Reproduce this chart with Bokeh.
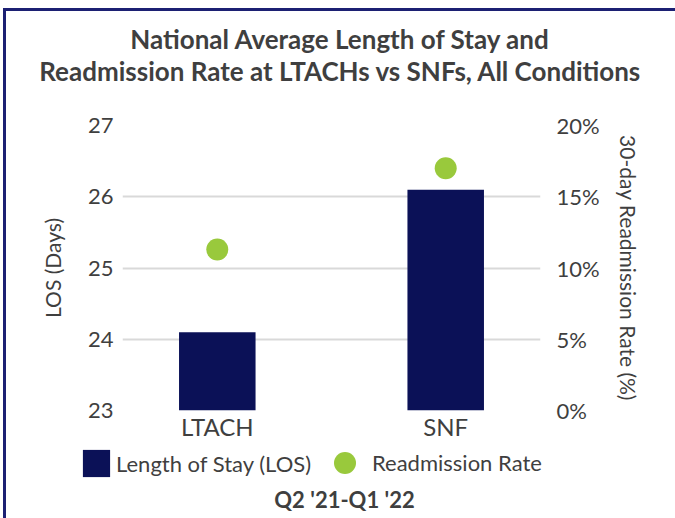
from bokeh.plotting import figure
from bokeh.layouts import column
from bokeh.models import (ColumnDataSource, FactorRange, Range1d, LinearAxis, Legend,
                          LegendItem, Label, PrintfTickFormatter, FixedTicker)
from bokeh.embed import file_html
from bokeh.resources import INLINE

categories = ["LTACH", "SNF"]
los_days = [24.1, 26.1]
readmission_pct = [11.3, 17.0]
los_ticks = [23, 24, 25, 26, 27]
pct_ticks = [0, 5, 10, 15, 20]
title_lines = ["National Average Length of Stay and",
               "Readmission Rate at LTACHs vs SNFs, All Conditions"]
period_label = "Q2 '21-Q1 '22"
series_names = ["Length of Stay (LOS)", "Readmission Rate"]

NAVY = "#0b1157"
GREEN = "#99c93c"
TXT = "#3f3f3f"
BORDER = "#1c2073"
FONT = "Lato"
W = 669

# ---------- title strip ----------
tf = figure(width=W, height=94, x_range=Range1d(0, 1), y_range=Range1d(0, 1),
            min_border=0, toolbar_location=None, output_backend="svg",
            x_axis_type=None, y_axis_type=None, outline_line_color=None,
            frame_align=False)
for txt, yy in zip(title_lines, [67, 35]):
    tf.add_layout(Label(x=334, y=yy, x_units="screen", y_units="screen", text=txt,
                        text_align="center", text_baseline="middle", text_font=FONT,
                        text_font_size="26px", text_font_style="bold", text_color=TXT))

# ---------- main chart ----------
src = ColumnDataSource(dict(cat=categories, los=los_days, pct=readmission_pct,
                            base=[los_ticks[0]] * len(categories)))

p = figure(x_range=FactorRange(factors=categories, range_padding=-0.085),
           y_range=Range1d(los_ticks[0], los_ticks[-1]),
           frame_width=418, frame_height=285, output_backend="svg", toolbar_location=None,
           min_border_left=116, min_border_right=135, min_border_top=20,
           min_border_bottom=33, outline_line_color=None, title=None,
           frame_align=False)
p.extra_y_ranges = {"pct": Range1d(pct_ticks[0], pct_ticks[-1])}

bars = p.vbar(x="cat", top="los", bottom="base", width=0.335, source=src,
              fill_color=NAVY, line_color=None)
dots = p.scatter(x="cat", y="pct", y_range_name="pct", size=22, source=src,
                 fill_color=GREEN, line_color=None)

def style_axis(ax, label_size, standoff):
    ax.axis_line_color = None
    ax.major_tick_line_color = None
    ax.minor_tick_line_color = None
    ax.major_tick_out = 0
    ax.major_tick_in = 0
    ax.minor_tick_out = 0
    ax.minor_tick_in = 0
    ax.major_label_text_font = FONT
    ax.major_label_text_font_size = label_size
    ax.major_label_text_color = TXT
    ax.major_label_standoff = standoff
    ax.axis_label_text_font = FONT
    ax.axis_label_text_font_size = "21px"
    ax.axis_label_text_font_style = "normal"
    ax.axis_label_text_color = TXT

ya = p.yaxis[0]
ya.ticker = FixedTicker(ticks=los_ticks)
ya.axis_label = "LOS (Days)"
style_axis(ya, "22px", 9)
ya.axis_label_standoff = 20

ra = LinearAxis(y_range_name="pct", ticker=FixedTicker(ticks=pct_ticks),
                formatter=PrintfTickFormatter(format="%d%%"),
                axis_label="30-day Readmission Rate (%)")
style_axis(ra, "22px", 16)
ra.axis_label_standoff = 13
p.add_layout(ra, "right")

xa = p.xaxis[0]
style_axis(xa, "24px", 1)

p.xgrid.grid_line_color = None
p.ygrid.grid_line_color = "#d9d9d9"
p.ygrid.grid_line_width = 2

# ---------- legend strip ----------
lf = figure(width=W, height=75, x_range=Range1d(0, 1), y_range=Range1d(0, 1),
            min_border=0, toolbar_location=None, output_backend="svg",
            x_axis_type=None, y_axis_type=None, outline_line_color=None,
            frame_align=False)
# legend swatches: one point each, kept outside the visible range of this strip
proxy = ColumnDataSource(dict(x=[-5], y=[-5]))
proxy_bar = lf.vbar(x="x", top="y", width=0.1, source=proxy,
                    fill_color=NAVY, line_color=None)
proxy_dot = lf.scatter(x="x", y="y", size=22, source=proxy,
                       fill_color=GREEN, line_color=None)
legend_common = dict(orientation="horizontal", label_text_font=FONT,
                     label_text_font_size="22px", label_text_color=TXT,
                     border_line_color=None, background_fill_alpha=0,
                     padding=0, margin=0)
lf.add_layout(Legend(items=[LegendItem(label=series_names[0], renderers=[proxy_bar])],
                     location=(73, 38), glyph_width=34, glyph_height=34,
                     label_standoff=3, **legend_common))
lf.add_layout(Legend(items=[LegendItem(label=series_names[1], renderers=[proxy_dot])],
                     location=(311, 28), glyph_width=55, glyph_height=55,
                     label_standoff=0, **legend_common))
lf.add_layout(Label(x=338, y=19, x_units="screen", y_units="screen", text=period_label,
                    text_align="center", text_baseline="middle", text_font=FONT,
                    text_font_size="22px", text_font_style="bold", text_color=TXT))

layout = column(tf, p, lf, spacing=0,
                styles={"border-left": f"3px solid {BORDER}",
                        "border-top": f"3px solid {BORDER}",
                        "margin-left": "3px", "margin-top": "8px"})

open("out.html", "w").write(file_html(layout, INLINE))
